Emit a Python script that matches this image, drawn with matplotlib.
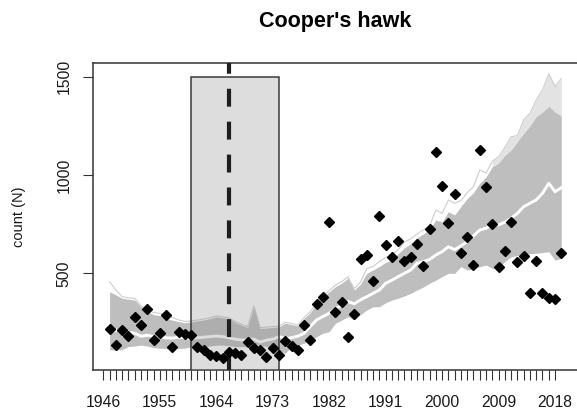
import matplotlib.pyplot as plt
from matplotlib.patches import Rectangle

# survey years and observed counts
years = list(range(1947, 2020))
counts = [
    218, 135, 210, 183, 279, 237, 317, 161, 195, 288,
    127, 203, 191, 188, 127, 110, 86, 79, 68, 101,
    93, 84, 152, 119, 110, 76, 119, 84, 155, 132,
    110, 237, 161, 343, 377, 762, 305, 356, 178, 293,
    573, 593, 462, 791, 644, 581, 666, 564, 581, 649,
    539, 727, 1119, 944, 757, 903, 602, 686, 542, 1127,
    937, 749, 531, 615, 762, 559, 588, 401, 563, 401,
    376, 368, 605,
]

# simulated trajectories: envelope, outer edge and median
band_lo = [
    110, 110, 112, 127, 130, 135, 130, 122, 119, 118,
    116, 118, 119, 127, 127, 127, 130, 135, 135, 132,
    127, 127, 127, 144, 135, 127, 125, 110, 93, 127,
    135, 144, 160, 178, 195, 203, 246, 262, 279, 263,
    290, 313, 330, 330, 350, 364, 373, 385, 398, 415,
    430, 449, 465, 483, 500, 500, 534, 517, 522, 534,
    542, 525, 530, 560, 584, 590, 602, 600, 602, 605,
    610, 567, 576,
]
band_hi = [
    406, 390, 373, 368, 364, 330, 305, 290, 285, 271,
    262, 254, 248, 254, 258, 263, 270, 279, 275, 271,
    250, 237, 225, 330, 220, 222, 225, 228, 246, 240,
    232, 271, 300, 347, 380, 406, 432, 450, 475, 415,
    445, 500, 517, 535, 555, 568, 600, 630, 650, 680,
    700, 725, 771, 762, 813, 797, 840, 880, 910, 958,
    990, 1042, 1060, 1100, 1127, 1170, 1212, 1250, 1297, 1320,
    1350, 1320, 1300,
]
edge_hi = [
    457, 415, 381, 375, 373, 335, 313, 300, 297, 285,
    275, 263, 255, 258, 262, 267, 274, 283, 279, 275,
    254, 241, 229, 334, 224, 226, 229, 232, 250, 246,
    236, 275, 305, 352, 386, 412, 440, 458, 482, 422,
    455, 525, 534, 560, 580, 593, 620, 660, 675, 700,
    720, 740, 822, 805, 873, 856, 870, 910, 940, 1025,
    1010, 1070, 1093, 1140, 1195, 1200, 1280, 1314, 1382, 1433,
    1515, 1450, 1490,
]
median = [
    203, 210, 212, 200, 195, 180, 185, 178, 175, 172,
    170, 175, 172, 169, 172, 175, 178, 181, 178, 172,
    165, 161, 161, 165, 150, 160, 165, 178, 169, 172,
    180, 195, 230, 263, 280, 297, 322, 335, 356, 345,
    365, 381, 398, 415, 449, 465, 483, 500, 517, 551,
    559, 570, 593, 610, 635, 620, 640, 661, 690, 720,
    729, 746, 746, 760, 780, 805, 839, 856, 873, 907,
    958, 915, 935,
]

tick_years = list(range(1946, 2019))
label_years = [1946, 1955, 1964, 1973, 1982, 1991, 2000, 2009, 2018]
y_ticks = [500, 1000, 1500]

window = (1960, 1974)   # shaded period
window_top = 1500
event_year = 1966
sparse_from = 2008      # where the upper runs thin out

plt.rcParams['font.family'] = ['Liberation Sans', 'DejaVu Sans']

fig = plt.figure(figsize=(5.77, 4.19), dpi=100)
ax = fig.add_axes([0.1607, 0.1169, 0.8556, 0.7334])

ax.fill_between(years, band_hi, edge_hi,
                where=[y >= sparse_from for y in years],
                color='#E3E3E3', lw=0, zorder=0.9)
ax.fill_between(years, band_lo, band_hi, color='#BEBEBE', lw=0, zorder=1)
ax.plot(years, edge_hi, color='#CDCDCD', lw=0.8, zorder=1.5)
ax.plot(years, median, color='white', lw=2.1, zorder=2)

ax.add_patch(Rectangle((window[0], 0), window[1] - window[0], window_top,
                       facecolor=(0.533, 0.533, 0.533, 0.28),
                       edgecolor='#3A3A3A', lw=1.1, zorder=3))
ax.axvline(event_year, color='#1E1E1E', lw=3, linestyle=(0, (4.3, 3.6)),
           zorder=4)

ax.plot(years, counts, linestyle='none', marker='D', ms=5.4,
        color='black', zorder=5)

ax.set_xlim(1944.31, 2023)
ax.set_ylim(8, 1571)

ax.set_xticks(tick_years)
ax.set_xticklabels([str(y) if y in label_years else '' for y in tick_years],
                   fontsize=11.3)
ax.set_yticks(y_ticks)
ax.set_yticklabels([str(v) for v in y_ticks], rotation=90, va='center',
                   fontsize=11.3)
ax.tick_params(axis='x', length=7.2, width=0.8, color='#333333', pad=11,
               labelcolor='#1A1A1A')
ax.tick_params(axis='y', length=7.2, width=0.8, color='#333333', pad=8,
               labelcolor='#1A1A1A')

for side in ['left', 'top', 'bottom']:
    ax.spines[side].set_color('#333333')
    ax.spines[side].set_linewidth(1.1)
ax.spines['right'].set_visible(False)

fig.text(335 / 577, 1 - 27.3 / 419, "Cooper's hawk", ha='center',
         va='baseline', fontsize=15.5, fontweight='bold')
fig.text(19 / 577, 1 - 217 / 419, 'count (N)', rotation=90, ha='center',
         va='center', fontsize=10.5, color='#1A1A1A')

fig.savefig('out.png', dpi=100)
